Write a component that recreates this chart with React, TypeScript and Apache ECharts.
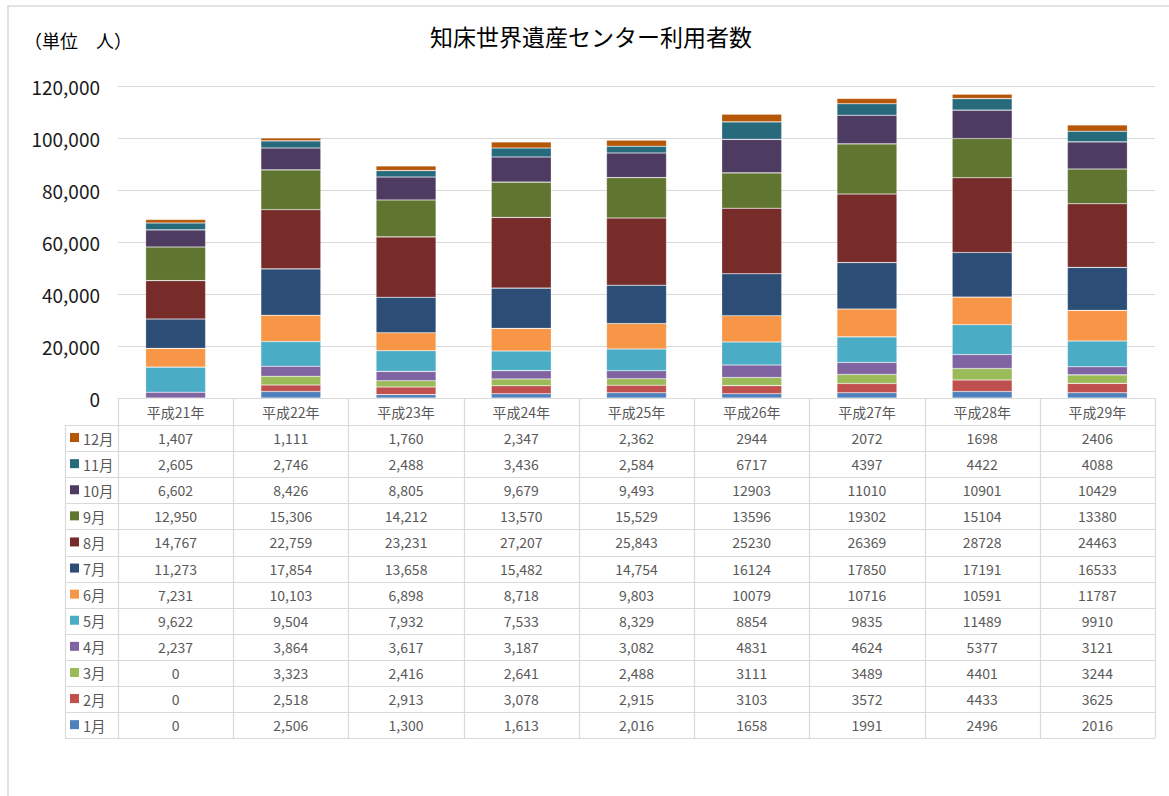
import React, { useEffect, useRef } from 'react';
import * as echarts from 'echarts';

const years = ['平成21年', '平成22年', '平成23年', '平成24年', '平成25年', '平成26年', '平成27年', '平成28年', '平成29年'];
const monthNames = ['1月', '2月', '3月', '4月', '5月', '6月', '7月', '8月', '9月', '10月', '11月', '12月'];
const jan = [0, 2506, 1300, 1613, 2016, 1658, 1991, 2496, 2016];
const feb = [0, 2518, 2913, 3078, 2915, 3103, 3572, 4433, 3625];
const mar = [0, 3323, 2416, 2641, 2488, 3111, 3489, 4401, 3244];
const apr = [2237, 3864, 3617, 3187, 3082, 4831, 4624, 5377, 3121];
const may = [9622, 9504, 7932, 7533, 8329, 8854, 9835, 11489, 9910];
const jun = [7231, 10103, 6898, 8718, 9803, 10079, 10716, 10591, 11787];
const jul = [11273, 17854, 13658, 15482, 14754, 16124, 17850, 17191, 16533];
const aug = [14767, 22759, 23231, 27207, 25843, 25230, 26369, 28728, 24463];
const sep = [12950, 15306, 14212, 13570, 15529, 13596, 19302, 15104, 13380];
const oct = [6602, 8426, 8805, 9679, 9493, 12903, 11010, 10901, 10429];
const nov = [2605, 2746, 2488, 3436, 2584, 6717, 4397, 4422, 4088];
const dec = [1407, 1111, 1760, 2347, 2362, 2944, 2072, 1698, 2406];
const monthValues = [jan, feb, mar, apr, may, jun, jul, aug, sep, oct, nov, dec];
const monthColors = ['#4F81BD', '#C0504D', '#9BBB59', '#8064A2', '#4BACC6', '#F79646', '#2C4D75', '#772C2A', '#5F7530', '#4D3B62', '#276A7C', '#B65708'];
// whether the year's column in the data table shows thousands separators
const commaFormatted = [true, true, true, true, true, false, false, false, false];

const FONT = '"Noto Sans CJK JP", "Noto Sans", sans-serif';
const W = 1169;
const H = 796;
const GRID_LEFT = 118;
const GRID_RIGHT = 1155;
const GRID_TOP = 86;
const GRID_BOTTOM = 398;
const HEADER_BOTTOM = 425;
const ROW_H = 26.1;
const TABLE_LEFT = 65;
const LINE = '#d9d9d9';

export default function App() {
  const ref = useRef<HTMLDivElement>(null);
  useEffect(() => {
    if (!ref.current) return;
    const chart = echarts.init(ref.current, undefined, { renderer: 'svg' });
    const series = monthNames.map((m, i) => ({
      name: m,
      type: 'bar',
      stack: 'total',
      barWidth: 60,
      data: monthValues[i],
      itemStyle: { color: monthColors[i], borderColor: 'rgba(255,255,255,0.35)', borderWidth: 0.6 },
    }));
    chart.setOption({
      animation: false,
      backgroundColor: '#ffffff',
      grid: { left: GRID_LEFT, right: W - GRID_RIGHT, top: GRID_TOP, bottom: H - GRID_BOTTOM, containLabel: false },
      xAxis: {
        type: 'category',
        data: years,
        axisLine: { show: true, lineStyle: { color: LINE, width: 1 } },
        axisTick: { show: false },
        axisLabel: { interval: 0, margin: 7, fontSize: 14, color: '#595959', fontFamily: FONT },
      },
      yAxis: {
        type: 'value',
        min: 0,
        max: 120000,
        interval: 20000,
        axisLine: { show: false },
        axisTick: { show: false },
        axisLabel: {
          margin: 18,
          fontSize: 19,
          color: '#1a1a1a',
          fontFamily: FONT,
          formatter: (v: number) => v.toLocaleString('en-US'),
        },
        splitLine: { lineStyle: { color: LINE, width: 1 } },
      },
      series,
    });

    const xs = years.map((y) => chart.convertToPixel({ xAxisIndex: 0 }, y) as number);
    const catW = xs.length > 1 ? xs[1] - xs[0] : 115;
    const graphics: any[] = [];
    // outer chart border
    graphics.push({
      type: 'rect',
      shape: { x: 8, y: 6, width: 1300, height: 1000 },
      style: { fill: 'none', stroke: '#d9d9d9', lineWidth: 1.5 },
      silent: true,
    });
    graphics.push({
      type: 'text',
      style: { text: '知床世界遺産センター利用者数', x: 591, y: 36, textAlign: 'center', textVerticalAlign: 'middle', fontSize: 23, fontFamily: FONT, fill: '#000000' },
    });
    graphics.push({
      type: 'text',
      style: { text: '（単位\u3000人）', x: 24, y: 40, textAlign: 'left', textVerticalAlign: 'middle', fontSize: 18, fontFamily: FONT, fill: '#000000' },
    });
    const tableBottom = HEADER_BOTTOM + ROW_H * 12;
    // horizontal table lines
    for (let r = 0; r <= 12; r++) {
      const y = Math.round(HEADER_BOTTOM + r * ROW_H) + 0.5;
      graphics.push({ type: 'line', shape: { x1: TABLE_LEFT, y1: y, x2: GRID_RIGHT, y2: y }, style: { stroke: LINE, lineWidth: 1.2 }, silent: true });
    }
    // vertical table lines
    graphics.push({ type: 'line', shape: { x1: TABLE_LEFT + 0.5, y1: HEADER_BOTTOM, x2: TABLE_LEFT + 0.5, y2: tableBottom }, style: { stroke: LINE, lineWidth: 1.2 }, silent: true });
    for (let k = 0; k <= years.length; k++) {
      const x = Math.round(xs[0] - catW / 2 + k * catW) + 0.5;
      graphics.push({ type: 'line', shape: { x1: x, y1: GRID_BOTTOM, x2: x, y2: tableBottom }, style: { stroke: LINE, lineWidth: 1.2 }, silent: true });
    }
    // rows: 12月 at top down to 1月
    for (let r = 0; r < 12; r++) {
      const mi = 11 - r;
      const cy = HEADER_BOTTOM + r * ROW_H + ROW_H / 2;
      graphics.push({ type: 'rect', shape: { x: 70, y: cy - 5, width: 9, height: 9 }, style: { fill: monthColors[mi] }, silent: true });
      graphics.push({
        type: 'text',
        style: { text: monthNames[mi], x: 83, y: cy, textAlign: 'left', textVerticalAlign: 'middle', fontSize: 14.5, fontFamily: FONT, fill: '#595959' },
      });
      years.forEach((_, yi) => {
        const v = monthValues[mi][yi];
        const txt = commaFormatted[yi] ? v.toLocaleString('en-US') : String(v);
        graphics.push({
          type: 'text',
          style: { text: txt, x: xs[yi], y: cy, textAlign: 'center', textVerticalAlign: 'middle', fontSize: 14, fontFamily: FONT, fill: '#595959' },
        });
      });
    }
    chart.setOption({ graphic: graphics });
    return () => chart.dispose();
  }, []);
  return <div ref={ref} style={{ position: 'absolute', left: 0, top: 0, width: W, height: H }} />;
}
